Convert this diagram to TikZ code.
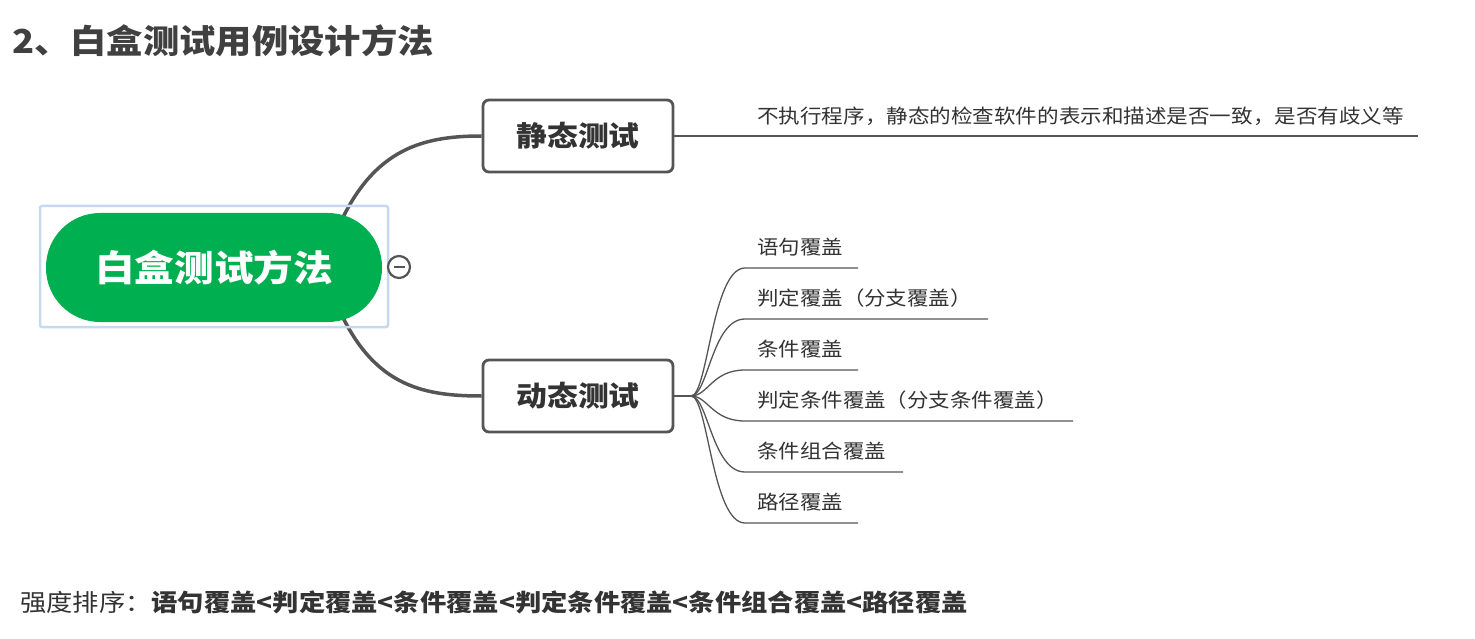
\documentclass[tikz,border=0pt]{standalone}
\usepackage{fontspec}
\usetikzlibrary{calc}
\setmainfont{Noto Sans CJK SC}[FakeStretch=1.1]
\definecolor{rootgreen}{HTML}{00B050}
\definecolor{selblue}{HTML}{C6D9F1}
\definecolor{linegray}{HTML}{555555}
\definecolor{txtgray}{HTML}{333333}
\definecolor{titlegray}{HTML}{404040}
\tikzset{
  mainbox/.style={draw=linegray, line width=2.8pt, fill=white, rounded corners=6pt,
    minimum width=190pt, minimum height=72pt, inner sep=0pt,
    font=\fontsize{28}{32}\selectfont\bfseries, text=txtgray},
  leaf/.style={anchor=west, inner sep=0pt, font=\fontsize{19.5}{22}\selectfont, text=txtgray},
  thick conn/.style={draw=linegray, line width=3.5pt},
  thin conn/.style={draw=linegray, line width=1.3pt},
}
\begin{document}
\begin{tikzpicture}[x=1pt,y=-1pt]
\useasboundingbox (0,0) rectangle (1475,639);
\fill[white] (0,0) rectangle (1475,639);

% title
\node[anchor=west, inner sep=0pt, text=titlegray, font=\fontsize{33}{38}\selectfont\bfseries] (title) at (12,41) {2、白盒测试用例设计方法};

% main boxes
\node[mainbox] (sta) at (578,136) {静态测试};
\node[mainbox] (dyn) at (578,396) {动态测试};

% connectors from root
\coordinate (rootUp) at (335,235);
\coordinate (rootDn) at (335,300);
\draw[thick conn] (rootUp) .. controls (370,150) and (420,136) .. (sta.west);
\draw[thick conn] (rootDn) .. controls (370,385) and (420,396) .. (dyn.west);

% selection frame and root
\node[draw=selblue, line width=2.5pt, rounded corners=2pt, minimum width=348pt, minimum height=121pt, inner sep=0pt] (sel) at (214,266.5) {};
\node[fill=rootgreen, rounded corners=54pt, minimum width=336pt, minimum height=109pt, inner sep=0pt,
  text=white, font=\fontsize{36}{40}\selectfont\bfseries] (root) at (214,267.5) {白盒测试方法};

% collapse button
\node[circle, draw=linegray, line width=2.2pt, fill=white, minimum size=22pt, inner sep=0pt] (coll) at (399,267) {};
\draw[linegray, line width=2.2pt] ($(coll.center)+(-5.5,0)$) -- ($(coll.center)+(5.5,0)$);

% static description
\coordinate (descEnd) at (1418,136);
\draw[thin conn] (sta.east) -- (descEnd);
\node[leaf, font=\fontsize{19.6}{22}\selectfont] (desc) at (757,116) {不执行程序，静态的检查软件的表示和描述是否一致，是否有歧义等};

% dynamic children
\coordinate (hub) at (691,396);
\draw[thin conn] (dyn.east) -- (hub);
\foreach \i/\ly/\lend/\txt in {
  1/268/858/语句覆盖,
  2/319/988/判定覆盖（分支覆盖）,
  3/370/858/条件覆盖,
  4/421/1073/判定条件覆盖（分支条件覆盖）,
  5/472/903/条件组合覆盖,
  6/523/858/路径覆盖}{
  \node[leaf] (c\i) at (757,\ly-21) {\txt};
  \coordinate (s\i) at (745,\ly);
  \coordinate (e\i) at (\lend,\ly);
  \draw[thin conn] (hub) .. controls (708,396) and (712,\ly) .. (s\i) -- (e\i);
}

% bottom
\node[anchor=west, inner sep=0pt, text=txtgray, font=\fontsize{23.9}{28}\selectfont] (rank) at (20,602)
  {强度排序：\textbf{语句覆盖<判定覆盖<条件覆盖<判定条件覆盖<条件组合覆盖<路径覆盖}};
\end{tikzpicture}
\end{document}
